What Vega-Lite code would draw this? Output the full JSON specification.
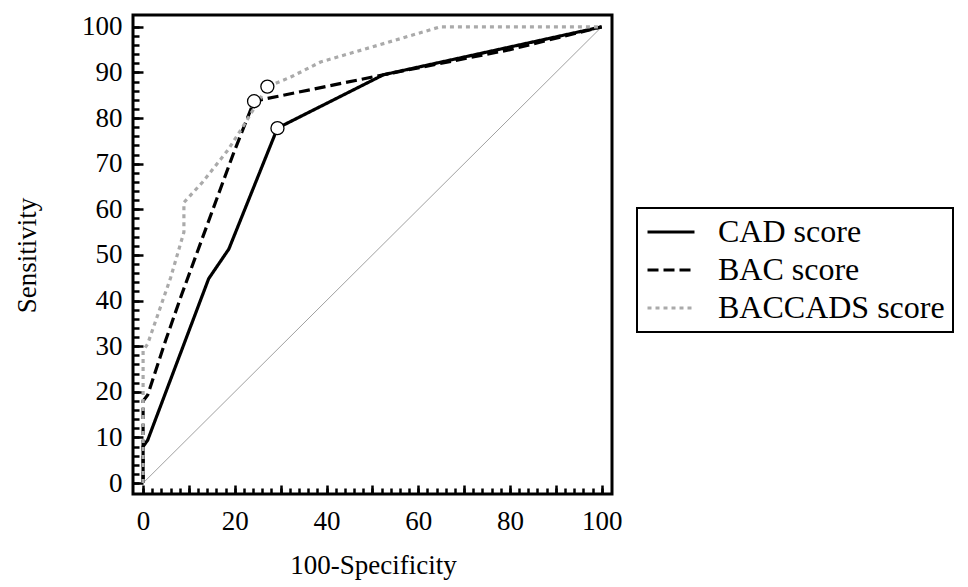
{
  "$schema": "https://vega.github.io/schema/vega-lite/v6.json",
  "width": 479,
  "height": 479,
  "autosize": {"type": "none"},
  "padding": {"left": 133, "top": 15, "right": 356, "bottom": 93},
  "background": "white",
  "config": {
    "view": {"stroke": "black", "strokeWidth": 3},
    "font": "Liberation Serif",
    "legend": {"strokeWidth": 2}
  },
  "datasets": {
    "diag": [{"x": 0, "y": 0}, {"x": 100, "y": 100}],
    "roc": [
      {"series": "CAD score", "i": 0, "x": 0, "y": 0},
      {"series": "CAD score", "i": 1, "x": 0, "y": 8},
      {"series": "CAD score", "i": 2, "x": 1, "y": 9.4},
      {"series": "CAD score", "i": 3, "x": 14.3, "y": 44.8},
      {"series": "CAD score", "i": 4, "x": 18.7, "y": 51.3},
      {"series": "CAD score", "i": 5, "x": 29.3, "y": 77.8},
      {"series": "CAD score", "i": 6, "x": 52.4, "y": 89.5},
      {"series": "CAD score", "i": 7, "x": 100, "y": 100},
      {"series": "BAC score", "i": 0, "x": 0, "y": 0},
      {"series": "BAC score", "i": 1, "x": 0, "y": 18},
      {"series": "BAC score", "i": 2, "x": 1, "y": 19.3},
      {"series": "BAC score", "i": 3, "x": 5, "y": 31.5},
      {"series": "BAC score", "i": 4, "x": 8.3, "y": 41},
      {"series": "BAC score", "i": 5, "x": 17.6, "y": 66.5},
      {"series": "BAC score", "i": 6, "x": 19.8, "y": 72.5},
      {"series": "BAC score", "i": 7, "x": 24.2, "y": 83.7},
      {"series": "BAC score", "i": 8, "x": 52.4, "y": 89.5},
      {"series": "BAC score", "i": 9, "x": 80, "y": 95},
      {"series": "BAC score", "i": 10, "x": 100, "y": 100},
      {"series": "BACCADS score", "i": 0, "x": 0, "y": 0},
      {"series": "BACCADS score", "i": 1, "x": 0, "y": 29},
      {"series": "BACCADS score", "i": 2, "x": 1, "y": 30.5},
      {"series": "BACCADS score", "i": 3, "x": 6, "y": 45},
      {"series": "BACCADS score", "i": 4, "x": 8.9, "y": 55},
      {"series": "BACCADS score", "i": 5, "x": 8.9, "y": 61.5},
      {"series": "BACCADS score", "i": 6, "x": 13, "y": 66},
      {"series": "BACCADS score", "i": 7, "x": 18.5, "y": 73},
      {"series": "BACCADS score", "i": 8, "x": 22, "y": 78.5},
      {"series": "BACCADS score", "i": 9, "x": 27.1, "y": 86.9},
      {"series": "BACCADS score", "i": 10, "x": 32.2, "y": 89},
      {"series": "BACCADS score", "i": 11, "x": 38.7, "y": 92.3},
      {"series": "BACCADS score", "i": 12, "x": 53, "y": 96.5},
      {"series": "BACCADS score", "i": 13, "x": 64.8, "y": 100},
      {"series": "BACCADS score", "i": 14, "x": 100, "y": 100}
    ],
    "cut": [
      {"series": "CAD score", "x": 29.3, "y": 77.8},
      {"series": "BAC score", "x": 24.2, "y": 83.7},
      {"series": "BACCADS score", "x": 27.1, "y": 86.9}
    ]
  },
  "layer": [
    {
      "data": {"name": "diag"},
      "mark": {"type": "line", "color": "#888888", "strokeWidth": 0.8},
      "encoding": {
        "x": {
          "field": "x", "type": "quantitative",
          "scale": {"domain": [-2.2, 102.25], "nice": false, "zero": false},
          "axis": {
            "orient": "bottom",
            "values": [0,2,4,6,8,10,12,14,16,18,20,22,24,26,28,30,32,34,36,38,40,42,44,46,48,50,52,54,56,58,60,62,64,66,68,70,72,74,76,78,80,82,84,86,88,90,92,94,96,98,100],
            "labels": false, "ticks": false, "domain": false,
            "grid": true, "gridDash": [0, 473, 6, 100], "gridWidth": 2.5, "gridColor": "black", "gridOpacity": 1,
            "title": null
          }
        },
        "y": {
          "field": "y", "type": "quantitative",
          "scale": {"domain": [-2.4, 102.6], "nice": false, "zero": false},
          "axis": {
            "orient": "left",
            "values": [0,2,4,6,8,10,12,14,16,18,20,22,24,26,28,30,32,34,36,38,40,42,44,46,48,50,52,54,56,58,60,62,64,66,68,70,72,74,76,78,80,82,84,86,88,90,92,94,96,98,100],
            "labels": false, "ticks": false, "domain": false,
            "grid": true, "gridDash": [6, 2000], "gridWidth": 2.5, "gridColor": "black", "gridOpacity": 1,
            "title": null
          }
        }
      }
    },
    {
      "data": {"name": "roc"},
      "mark": {"type": "line", "strokeWidth": 3.2, "strokeCap": "butt"},
      "encoding": {
        "x": {
          "field": "x", "type": "quantitative",
          "scale": {"domain": [-2.2, 102.25], "nice": false, "zero": false},
          "axis": {
            "orient": "bottom",
            "values": [0,10,20,30,40,50,60,70,80,90,100],
            "labelExpr": "datum.value % 20 === 0 ? datum.label : ''",
            "ticks": false, "domain": false,
            "grid": true, "gridDash": [0, 470, 9, 100], "gridWidth": 2.5, "gridColor": "black", "gridOpacity": 1,
            "labelFont": "Liberation Serif", "labelFontSize": 27, "labelColor": "black",
            "labelPadding": 14, "labelFlush": false, "labelOverlap": false, "labelBound": false,
            "title": "100-Specificity", "titleFont": "Liberation Serif", "titleFontSize": 27,
            "titleFontWeight": "normal", "titleColor": "black",
            "titleX": 240, "titleY": 71, "titleBaseline": "middle", "titleAlign": "center"
          }
        },
        "y": {
          "field": "y", "type": "quantitative",
          "scale": {"domain": [-2.4, 102.6], "nice": false, "zero": false},
          "axis": {
            "orient": "left",
            "values": [0,10,20,30,40,50,60,70,80,90,100],
            "ticks": false, "domain": false,
            "grid": true, "gridDash": [10, 2000], "gridWidth": 2.5, "gridColor": "black", "gridOpacity": 1,
            "labelFont": "Liberation Serif", "labelFontSize": 27, "labelColor": "black",
            "labelPadding": 11, "labelFlush": false, "labelOverlap": false, "labelBound": false,
            "title": "Sensitivity", "titleFont": "Liberation Serif", "titleFontSize": 27,
            "titleFontWeight": "normal", "titleColor": "black",
            "titleX": -106, "titleY": 240, "titleAngle": -90, "titleBaseline": "middle", "titleAlign": "center"
          }
        },
        "order": {"field": "i", "type": "quantitative"},
        "color": {
          "field": "series", "type": "nominal",
          "scale": {"domain": ["CAD score", "BAC score", "BACCADS score"], "range": ["black", "black", "#aaaaaa"]},
          "legend": {
            "title": null, "orient": "none", "legendX": 504, "legendY": 193,
            "symbolType": "M-2,0H2", "symbolSize": 552, "symbolStrokeWidth": 3.2, "symbolOffset": 10,
            "labelFont": "Liberation Serif", "labelFontSize": 32, "labelColor": "black", "labelLimit": 400,
            "labelOffset": 31, "padding": 8, "rowPadding": 6,
            "strokeColor": "black", "fillColor": "white"
          }
        },
        "strokeDash": {
          "field": "series", "type": "nominal",
          "scale": {"domain": ["CAD score", "BAC score", "BACCADS score"], "range": [[1, 0], [11, 5], [4, 4]]},
          "legend": {
            "title": null, "orient": "none", "legendX": 504, "legendY": 193,
            "symbolType": "M-2,0H2", "symbolSize": 552, "symbolStrokeWidth": 3.2, "symbolOffset": 10,
            "labelFont": "Liberation Serif", "labelFontSize": 32, "labelColor": "black", "labelLimit": 400,
            "labelOffset": 31, "padding": 8, "rowPadding": 6,
            "strokeColor": "black", "fillColor": "white"
          }
        }
      }
    },
    {
      "data": {"name": "cut"},
      "mark": {"type": "point", "shape": "circle", "filled": true, "fill": "white", "stroke": "black", "strokeWidth": 1.3, "size": 170, "opacity": 1},
      "encoding": {
        "x": {"field": "x", "type": "quantitative", "scale": {"domain": [-2.2, 102.25], "nice": false, "zero": false}, "axis": null},
        "y": {"field": "y", "type": "quantitative", "scale": {"domain": [-2.4, 102.6], "nice": false, "zero": false}, "axis": null}
      }
    }
  ],
  "resolve": {"axis": {"x": "independent", "y": "independent"}}
}
